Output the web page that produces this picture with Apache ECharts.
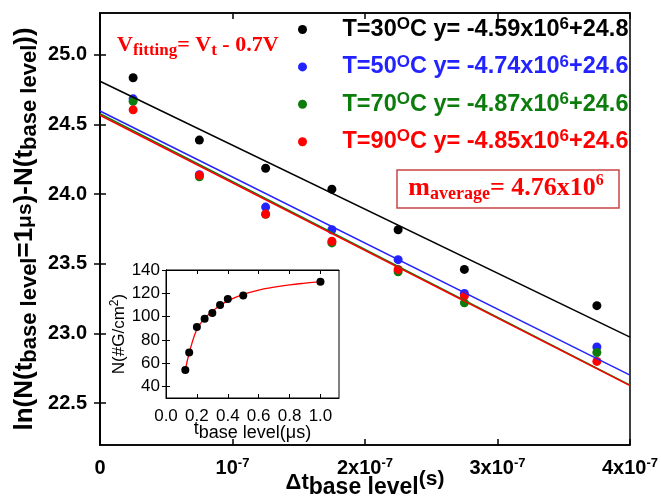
<!DOCTYPE html>
<html>
<head>
<meta charset="utf-8">
<script src="https://cdn.jsdelivr.net/npm/echarts@6/dist/echarts.min.js"></script>
<style>
  html, body { margin: 0; padding: 0; background: #fff; }
  #chart { width: 661px; height: 496px; }
</style>
</head>
<body>
<div id="chart"></div>
<script>
// main plot: ln(N) difference vs delta t (s)
const dtBase = [0.25e-7, 0.75e-7, 1.25e-7, 1.75e-7, 2.25e-7, 2.75e-7, 3.75e-7];
const lnT30 = [24.835, 24.388, 24.186, 24.036, 23.745, 23.46, 23.20];
const lnT50 = [24.684, 24.14, 23.907, 23.745, 23.53, 23.288, 22.904];
const lnT70 = [24.666, 24.125, 23.855, 23.65, 23.443, 23.22, 22.864];
const lnT90 = [24.605, 24.135, 23.857, 23.662, 23.46, 23.27, 22.80];

// linear fits, read at both ends of the axis
const fitX = [0, 4e-7];
const fitT30 = [24.81, 22.974];
const fitT50 = [24.597, 22.701];
const fitT70 = [24.577, 22.63];
const fitT90 = [24.566, 22.626];

const seriesNames = ['T=30', 'T=50', 'T=70', 'T=90'];
const seriesColors = ['#000000', '#2323ff', '#0c7c0c', '#ff0000'];
const slopeText = ['-4.59x10', '-4.74x10', '-4.87x10', '-4.85x10'];
const interceptText = ['+24.8', '+24.6', '+24.6', '+24.6'];

const xTickValues = [0, 1e-7, 2e-7, 3e-7, 4e-7];
const xTickText = ['0', '10', '2x10', '3x10', '4x10'];
const yTickValues = [22.5, 23.0, 23.5, 24.0, 24.5, 25.0];

// inset: N vs t base level (us)
const tBase = [0.125, 0.15, 0.2, 0.25, 0.3, 0.35, 0.4, 0.5, 1.0];
const nDensity = [54, 69, 91, 98, 103, 110, 115, 118, 130];
const curveT = [0.125, 0.15, 0.2, 0.25, 0.3, 0.35, 0.4, 0.5, 0.6, 0.7, 0.8, 0.9, 1.0];
const curveN = [54, 68.5, 89, 98.5, 104.5, 109.5, 113.5, 119, 122.8, 125.2, 127.2, 128.7, 130];
const insetXTicks = [0, 0.2, 0.4, 0.6, 0.8, 1.0];
const insetYTicks = [40, 60, 80, 100, 120, 140];

const SANS = 'Liberation Sans, Arial, sans-serif';
const SERIF = 'Liberation Serif, Times New Roman, serif';

const pairs = (xs, ys) => xs.map((x, i) => [x, ys[i]]);

const chart = echarts.init(document.getElementById('chart'), null, { renderer: 'canvas' });

const legendRich = {};
seriesColors.forEach((c, i) => {
  legendRich['n' + i] = { color: c, fontFamily: SANS, fontWeight: 'bold', fontSize: 23.5, lineHeight: 26 };
  legendRich['s' + i] = { color: c, fontFamily: SANS, fontWeight: 'bold', fontSize: 17, lineHeight: 16, padding: [0, 0, 10, 0] };
});

const boxAxis = {
  axisLine: { show: true, lineStyle: { color: '#000', width: 1.5 } },
  axisTick: { show: true, inside: true, length: 6, lineStyle: { color: '#000', width: 1.5 } },
  splitLine: { show: false }
};

const option = {
  animation: false,
  backgroundColor: '#fff',
  grid: [
    { left: 100, right: 31, top: 13, bottom: 51, show: true, borderColor: '#000', borderWidth: 1.5, outerBoundsMode: 'none', containLabel: false },
    { left: 166, right: 322, top: 270, bottom: 98, show: true, borderColor: '#000', borderWidth: 1, backgroundColor: '#fff', z: 5, outerBoundsMode: 'none', containLabel: false }
  ],
  legend: {
    data: seriesNames,
    orient: 'vertical',
    left: 293,
    top: 11,
    itemWidth: 70,
    itemHeight: 9,
    itemGap: 10.4,
    icon: 'circle',
    selectedMode: false,
    formatter: name => {
      const i = seriesNames.indexOf(name);
      return `{n${i}|${name}}{s${i}|O}{n${i}|C y= ${slopeText[i]}}{s${i}|6}{n${i}|${interceptText[i]}}`;
    },
    textStyle: { rich: legendRich }
  },
  xAxis: [
    {
      type: 'value', gridIndex: 0, position: 'bottom', min: 0, max: 4e-7, interval: 1e-7,
      ...boxAxis,
      axisLabel: {
        margin: 12,
        formatter: v => {
          const i = xTickValues.findIndex(t => Math.abs(t - v) < 1e-12);
          if (i < 0) return '';
          return i === 0 ? `{b|${xTickText[i]}}` : `{b|${xTickText[i]}}{e|-7}`;
        },
        rich: {
          b: { fontFamily: SANS, fontWeight: 'bold', fontSize: 20, color: '#000', lineHeight: 22 },
          e: { fontFamily: SANS, fontWeight: 'bold', fontSize: 13, color: '#000', lineHeight: 14, padding: [0, 0, 10, 0] }
        }
      },
      name: '{d|Δt}{s|base level}{p|(s)}',
      nameLocation: 'middle',
      nameGap: 27,
      nameMoveOverlap: false,
      nameTextStyle: {
        rich: {
          d: { fontFamily: SANS, fontWeight: 'bold', fontSize: 22, color: '#000', lineHeight: 22 },
          s: { fontFamily: SANS, fontWeight: 'bold', fontSize: 23, color: '#000', lineHeight: 22, padding: [10, 0, 0, 0] },
          p: { fontFamily: SANS, fontWeight: 'bold', fontSize: 21, color: '#000', lineHeight: 20, padding: [0, 0, 8, 0] }
        }
      }
    },
    {
      type: 'value', gridIndex: 0, position: 'top', min: 0, max: 4e-7, interval: 1e-7,
      ...boxAxis, axisLabel: { show: false }
    },
    {
      type: 'value', gridIndex: 1, position: 'bottom', min: 0, max: 1.12,
      ...boxAxis,
      axisLine: { show: true, lineStyle: { color: '#000', width: 1 } },
      axisTick: { show: true, inside: true, length: 4, customValues: insetXTicks.slice(1), lineStyle: { color: '#000', width: 1 } },
      axisLabel: {
        customValues: insetXTicks, margin: 10,
        fontFamily: SANS, fontSize: 17, color: '#000',
        formatter: v => v.toFixed(1)
      },
      name: '{t|t}{s|base level(μs)}',
      nameLocation: 'middle',
      nameGap: 22,
      nameMoveOverlap: false,
      nameTextStyle: {
        rich: {
          t: { fontFamily: SANS, fontSize: 18, color: '#000', lineHeight: 18 },
          s: { fontFamily: SANS, fontSize: 18, color: '#000', lineHeight: 18, padding: [8, 0, 0, 0] }
        }
      },
      z: 6
    },
    {
      type: 'value', gridIndex: 1, position: 'top', min: 0, max: 1.12,
      ...boxAxis,
      axisLine: { show: true, lineStyle: { color: '#000', width: 1 } },
      axisTick: { show: true, inside: true, length: 4, customValues: insetXTicks.slice(1), lineStyle: { color: '#000', width: 1 } },
      axisLabel: { show: false }, z: 6
    }
  ],
  yAxis: [
    {
      type: 'value', gridIndex: 0, position: 'left', min: 22.2, max: 25.3,
      ...boxAxis,
      axisTick: { show: true, inside: true, length: 6, customValues: yTickValues, lineStyle: { color: '#000', width: 1.5 } },
      axisLabel: {
        customValues: yTickValues, margin: 13,
        fontFamily: SANS, fontWeight: 'bold', fontSize: 20, color: '#000',
        padding: [0, 0, 12, 0],
        formatter: v => v.toFixed(1)
      },
      name: '{n|ln(N(t}{s|base level}{n|=1}{m|μs}{n|)-N(t}{s|base level}{n|))}',
      nameLocation: 'middle',
      nameRotate: 90,
      nameGap: 62,
      nameMoveOverlap: false,
      nameTextStyle: {
        rich: {
          n: { fontFamily: SANS, fontWeight: 'bold', fontSize: 26, color: '#000', lineHeight: 26 },
          s: { fontFamily: SANS, fontWeight: 'bold', fontSize: 22, color: '#000', lineHeight: 22, padding: [10, 0, 0, 0] },
          m: { fontFamily: SANS, fontWeight: 'bold', fontSize: 21, color: '#000', lineHeight: 22 }
        }
      }
    },
    {
      type: 'value', gridIndex: 0, position: 'right', min: 22.2, max: 25.3,
      ...boxAxis,
      axisTick: { show: true, inside: true, length: 6, customValues: yTickValues, lineStyle: { color: '#000', width: 1.5 } },
      axisLabel: { show: false }
    },
    {
      type: 'value', gridIndex: 1, position: 'left', min: 30, max: 140,
      ...boxAxis,
      axisLine: { show: true, lineStyle: { color: '#000', width: 1 } },
      axisTick: { show: true, inside: true, length: 4, customValues: insetYTicks, lineStyle: { color: '#000', width: 1 } },
      axisLabel: {
        customValues: insetYTicks, margin: 6,
        fontFamily: SANS, fontSize: 17, color: '#000'
      },
      name: '{n|N(#G/cm}{e|2}{n|)}',
      nameLocation: 'middle',
      nameRotate: 90,
      nameGap: 38,
      nameMoveOverlap: false,
      nameTextStyle: {
        rich: {
          n: { fontFamily: SANS, fontSize: 17, color: '#000', lineHeight: 18 },
          e: { fontFamily: SANS, fontSize: 12, color: '#000', lineHeight: 12, padding: [0, 0, 8, 0] }
        }
      },
      z: 6
    },
    {
      type: 'value', gridIndex: 1, position: 'right', min: 30, max: 140,
      ...boxAxis,
      axisLine: { show: true, lineStyle: { color: '#000', width: 1 } },
      axisTick: { show: true, inside: true, length: 4, customValues: insetYTicks, lineStyle: { color: '#000', width: 1 } },
      axisLabel: { show: false }, z: 6
    }
  ],
  series: [
    ...[lnT30, lnT50, lnT70, lnT90].map((ys, i) => ({
      name: seriesNames[i],
      type: 'scatter',
      xAxisIndex: 0, yAxisIndex: 0,
      symbolSize: 9,
      itemStyle: { color: seriesColors[i], opacity: 1 },
      data: pairs(dtBase, ys),
      z: 3
    })),
    ...[fitT30, fitT50, fitT70, fitT90].map((ys, i) => ({
      name: 'fit' + i,
      type: 'line',
      xAxisIndex: 0, yAxisIndex: 0,
      symbol: 'none',
      lineStyle: { color: seriesColors[i], width: 1.5 },
      data: pairs(fitX, ys),
      z: 4
    })),
    {
      name: 'curve',
      type: 'line',
      xAxisIndex: 2, yAxisIndex: 2,
      symbol: 'none',
      smooth: 0.4,
      lineStyle: { color: '#ff0000', width: 1.3 },
      data: pairs(curveT, curveN),
      z: 7
    },
    {
      name: 'N',
      type: 'scatter',
      xAxisIndex: 2, yAxisIndex: 2,
      symbolSize: 8,
      itemStyle: { color: '#000', opacity: 1 },
      data: pairs(tBase, nDensity),
      z: 8
    }
  ],
  graphic: [
    {
      type: 'text',
      x: 117, y: 45,
      style: {
        text: '{v|V}{s|fitting}{v|= V}{s|t}{v| - 0.7V}',
        align: 'left', verticalAlign: 'middle',
        textAlign: 'left', textVerticalAlign: 'middle',
        rich: {
          v: { fontFamily: SERIF, fontWeight: 'bold', fontSize: 22, fill: '#ff0000', lineHeight: 22 },
          s: { fontFamily: SERIF, fontWeight: 'bold', fontSize: 17, fill: '#ff0000', lineHeight: 16, padding: [12, 0, 0, 0] }
        }
      },
      z: 10
    },
    {
      type: 'rect',
      shape: { x: 397, y: 170, width: 222, height: 38 },
      style: { fill: 'none', stroke: '#c84646', lineWidth: 1.5 },
      z: 10
    },
    {
      type: 'text',
      x: 506, y: 188,
      style: {
        text: '{m|m}{s|average}{m|= 4.76x10}{e|6}',
        align: 'center', verticalAlign: 'middle',
        textAlign: 'center', textVerticalAlign: 'middle',
        rich: {
          m: { fontFamily: SERIF, fontWeight: 'bold', fontSize: 26, fill: '#ff0000', lineHeight: 26 },
          s: { fontFamily: SERIF, fontWeight: 'bold', fontSize: 18, fill: '#ff0000', lineHeight: 18, padding: [12, 0, 0, 0] },
          e: { fontFamily: SERIF, fontWeight: 'bold', fontSize: 16, fill: '#ff0000', lineHeight: 16, padding: [0, 0, 14, 0] }
        }
      },
      z: 10
    }
  ]
};

chart.setOption(option);
</script>
</body>
</html>
